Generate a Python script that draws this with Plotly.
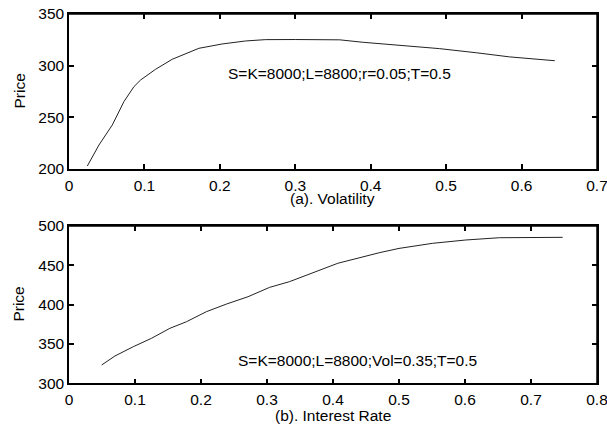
import plotly.graph_objects as go

# (a) Price vs Volatility
vol = [0.0243, 0.0397, 0.0574, 0.0728, 0.0861, 0.095, 0.1148, 0.1369, 0.1722, 0.203, 0.234,
       0.2605, 0.3, 0.359, 0.39, 0.438, 0.491, 0.54, 0.584, 0.644]
price_a = [202.9, 223.2, 242.6, 265.2, 279.7, 286.2, 296.5, 306.2, 316.8, 321, 323.9,
           325.2, 325.3, 325, 322.6, 319.5, 316.5, 312.5, 308.5, 304.8]

# (b) Price vs Interest Rate
rate = [0.0495, 0.0696, 0.0973, 0.125, 0.1528, 0.178, 0.208, 0.2387, 0.2713, 0.304, 0.334,
        0.364, 0.4073, 0.47, 0.5, 0.551, 0.601, 0.652, 0.7, 0.748]
price_b = [323.3, 334.7, 346.5, 357.2, 369.9, 378.3, 391, 400.8, 410.1, 422, 429.2,
           438.6, 452.6, 466, 471.5, 478, 482.2, 485.1, 485.6, 485.6]

xticks_a = [0, 0.1, 0.2, 0.3, 0.4, 0.5, 0.6, 0.7]
xticks_b = [0, 0.1, 0.2, 0.3, 0.4, 0.5, 0.6, 0.7, 0.8]
xlabels_a = ["0", "0.1", "0.2", "0.3", "0.4", "0.5", "0.6", "0.7"]
xlabels_b = ["0", "0.1", "0.2", "0.3", "0.4", "0.5", "0.6", "0.7", "0.8"]
yticks_a = [200, 250, 300, 350]
yticks_b = [300, 350, 400, 450, 500]

text_a = "S=K=8000;L=8800;r=0.05;T=0.5"
text_b = "S=K=8000;L=8800;Vol=0.35;T=0.5"
title_a = "(a). Volatility"
title_b = "(b). Interest Rate"
ylabel = "Price"

FONT = "Liberation Sans"
fs = 15.5

fig = go.Figure()
fig.add_trace(go.Scatter(x=vol, y=price_a, mode="lines", line=dict(color="#222", width=1),
                         xaxis="x", yaxis="y", showlegend=False))
fig.add_trace(go.Scatter(x=rate, y=price_b, mode="lines", line=dict(color="#222", width=1),
                         xaxis="x2", yaxis="y2", showlegend=False))

W, H = 607, 426
xd = [69 / W, 597 / W]
yd_a = [1 - 169 / H, 1 - 14 / H]
yd_b = [1 - 383.3 / H, 1 - 226 / H]

axcommon = dict(showgrid=False, zeroline=False, showline=True, linecolor="black", linewidth=1.5,
                mirror="ticks", ticks="inside", ticklen=5, tickwidth=1.5, tickcolor="black",
                automargin=False, ticklabeloverflow="allow",
                tickfont=dict(family=FONT, size=fs, color="black"))

fig.update_layout(
    width=W, height=H, margin=dict(l=0, r=0, t=0, b=0),
    paper_bgcolor="white", plot_bgcolor="white",
    font=dict(family=FONT, size=fs, color="black"),
    xaxis=dict(domain=xd, anchor="y", range=[0, 0.7], tickvals=xticks_a, ticktext=xlabels_a,
               ticklabelstandoff=2, **axcommon),
    yaxis=dict(domain=yd_a, anchor="x", range=[200, 350], tickvals=yticks_a, **axcommon),
    xaxis2=dict(domain=xd, anchor="y2", range=[0, 0.8], tickvals=xticks_b, ticktext=xlabels_b,
                ticklabelstandoff=1, **axcommon),
    yaxis2=dict(domain=yd_b, anchor="x2", range=[300, 500], tickvals=yticks_b, **axcommon),
)

# top and right edges of each axes box, in paper coordinates
for (y0, y1) in (yd_a, yd_b):
    fig.add_shape(type="line", xref="paper", yref="paper", x0=xd[0], x1=xd[1], y0=y1, y1=y1,
                  line=dict(color="black", width=1.5), layer="above")
    fig.add_shape(type="line", xref="paper", yref="paper", x0=xd[1], x1=xd[1], y0=y0, y1=y1,
                  line=dict(color="black", width=1.5), layer="above")

fig.add_annotation(x=0.359, y=292, xref="x", yref="y", text=text_a, showarrow=False,
                   xanchor="center", yanchor="middle", font=dict(family=FONT, size=fs))
fig.add_annotation(x=0.4365, y=329.6, xref="x2", yref="y2", text=text_b, showarrow=False,
                   xanchor="center", yanchor="middle", font=dict(family=FONT, size=fs))
fig.add_annotation(x=(xd[0] + xd[1]) / 2, y=1 - 198.5 / H, xref="paper", yref="paper", text=title_a,
                   showarrow=False, xanchor="center", yanchor="middle", font=dict(family=FONT, size=fs))
fig.add_annotation(x=(xd[0] + xd[1]) / 2, y=1 - 415 / H, xref="paper", yref="paper", text=title_b,
                   showarrow=False, xanchor="center", yanchor="middle", font=dict(family=FONT, size=fs))
fig.add_annotation(x=19 / W, y=1 - 91.5 / H, xref="paper", yref="paper", text=ylabel, textangle=-90,
                   showarrow=False, xanchor="center", yanchor="middle", font=dict(family=FONT, size=fs))
fig.add_annotation(x=19 / W, y=1 - 304.6 / H, xref="paper", yref="paper", text=ylabel, textangle=-90,
                   showarrow=False, xanchor="center", yanchor="middle", font=dict(family=FONT, size=fs))

fig.write_html("out.html", config={"displayModeBar": False},
               post_script="document.body.style.margin='0';document.body.style.overflow='hidden';")
